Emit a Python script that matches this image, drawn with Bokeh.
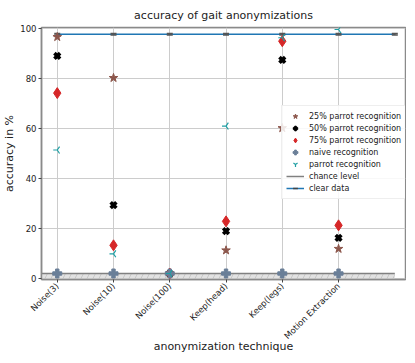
import math
from bokeh.plotting import figure
from bokeh.models import Range1d, FixedTicker, Legend, LegendItem
from bokeh.embed import file_html
from bokeh.resources import INLINE

techniques = ["Noise(3)", "Noise(10)", "Noise(100)", "Keep(head)", "Keep(legs)", "Motion Extraction"]
parrot25 = [96.8, 80.4, 2.0, 11.3, 60.3, 11.9]
parrot50 = [89.2, 29.4, 2.0, 19.0, 87.6, 16.3]
parrot75 = [74.3, 13.3, 2.0, 22.9, 95.1, 21.3]
naive = [2.0, 2.0, 2.0, 2.0, 2.0, 2.0]
parrot = [51.5, 9.9, 2.0, 61.1, 96.5, 99.8]
clear_x = [0, 1, 2, 3, 4, 5, 6]
clear_data = [97.9, 97.9, 97.9, 97.9, 97.9, 97.9, 97.9]
clear_err = [0.3, 0.3, 0.3, 0.3, 0.3, 0.3, 0.3]
chance = 2.0
yticks = [0, 20, 40, 60, 80, 100]

FONT = "DejaVu Sans"
xs = list(range(len(techniques)))

p = figure(width=406, height=355, output_backend="svg", toolbar_location=None,
           x_range=Range1d(-0.28, 6.19), y_range=Range1d(-0.4, 100.6),
           min_border_left=2, min_border_right=1, min_border_top=23, min_border_bottom=0)

p.title.text = "accuracy of gait anonymizations"
p.title.align = "center"
p.title.text_font = FONT
p.title.text_font_size = "11px"
p.title.text_font_style = "normal"
p.title.text_color = "#222222"
p.title.standoff = 12

# chance region
p.quad(left=[-0.28], right=[6], bottom=[0], top=[chance], fill_color="#e2e2e2",
       line_color=None, hatch_pattern="/", hatch_color="#b5b5b5", hatch_scale=12,
       hatch_weight=0.6)
r_chance = p.line([-0.28, 6], [chance, chance], line_color="#808080", line_width=1.5)

# clear data
r_clear = p.line(clear_x, clear_data, line_color="#1f77b4", line_width=1.5)
lo = [v - e for v, e in zip(clear_data, clear_err)]
hi = [v + e for v, e in zip(clear_data, clear_err)]
p.segment(x0=clear_x, x1=clear_x, y0=lo, y1=hi, line_color="#555555", line_width=1.5)
p.scatter(clear_x, lo, marker="dash", size=6, line_color="#555555", line_width=1.5)
p.scatter(clear_x, hi, marker="dash", size=6, line_color="#555555", line_width=1.5)
r_clear_leg = p.scatter([float("nan")], [float("nan")], marker="dash", angle=math.pi / 2,
                        size=9, line_color="#444444", line_width=1.5)

r25 = p.scatter(xs, parrot25, marker="star", size=9, fill_color="#8c564b", line_color="#8c564b")
r50 = p.scatter(xs, parrot50, marker="x", size=8, line_color="black", line_width=3.6)
r75 = p.scatter(xs, parrot75, marker="diamond", size=11, fill_color="#d62728", line_color="#d62728")
rn = p.scatter(xs, naive, marker="plus", size=9, fill_color="#6a7f98", line_color="#6a7f98")
rp = p.scatter(xs, parrot, marker="y", angle=-math.pi / 2, size=8, line_color="#1f9ea3",
               line_width=1.2)

p.xaxis.ticker = FixedTicker(ticks=xs)
p.xaxis.major_label_overrides = {i: t for i, t in enumerate(techniques)}
p.xaxis.major_label_orientation = math.pi / 4
p.yaxis.ticker = FixedTicker(ticks=yticks)
p.xaxis.axis_label = "anonymization technique"
p.yaxis.axis_label = "accuracy in %"
for ax in (p.xaxis[0], p.yaxis[0]):
    ax.axis_label_text_font = FONT
    ax.axis_label_text_font_size = "11px"
    ax.axis_label_text_font_style = "normal"
    ax.axis_label_text_color = "#222222"
    ax.major_label_text_font = FONT
    ax.major_label_text_font_size = "8.5px"
    ax.major_label_text_color = "#222222"
    ax.axis_line_color = "#8a8a8a"
    ax.axis_line_width = 1.5
    ax.major_tick_line_color = "#444444"
    ax.major_tick_in = 0
    ax.major_tick_out = 3
    ax.minor_tick_line_color = None
    ax.major_label_standoff = 2
p.xaxis.axis_label_standoff = -8
p.yaxis.axis_label_standoff = 1

p.outline_line_color = "#8a8a8a"
p.outline_line_width = 1.5
p.grid.grid_line_color = "#cccccc"
p.grid.grid_line_width = 1

legend = Legend(items=[
    LegendItem(label="25% parrot recognition", renderers=[r25]),
    LegendItem(label="50% parrot recognition", renderers=[r50]),
    LegendItem(label="75% parrot recognition", renderers=[r75]),
    LegendItem(label="naive recognition", renderers=[rn]),
    LegendItem(label="parrot recognition", renderers=[rp]),
    LegendItem(label="chance level", renderers=[r_chance]),
    LegendItem(label="clear data", renderers=[r_clear, r_clear_leg]),
], location=(240, 80))
legend.label_text_font = FONT
legend.label_text_font_size = "8px"
legend.label_text_color = "#222222"
legend.label_height = 8
legend.glyph_height = 12
legend.glyph_width = 18
legend.spacing = 0
legend.padding = 4
legend.margin = 0
legend.label_standoff = 5
legend.border_line_color = "#dddddd"
legend.background_fill_alpha = 0.85
p.add_layout(legend, "center")

open("out.html", "w").write(file_html(p, INLINE))
